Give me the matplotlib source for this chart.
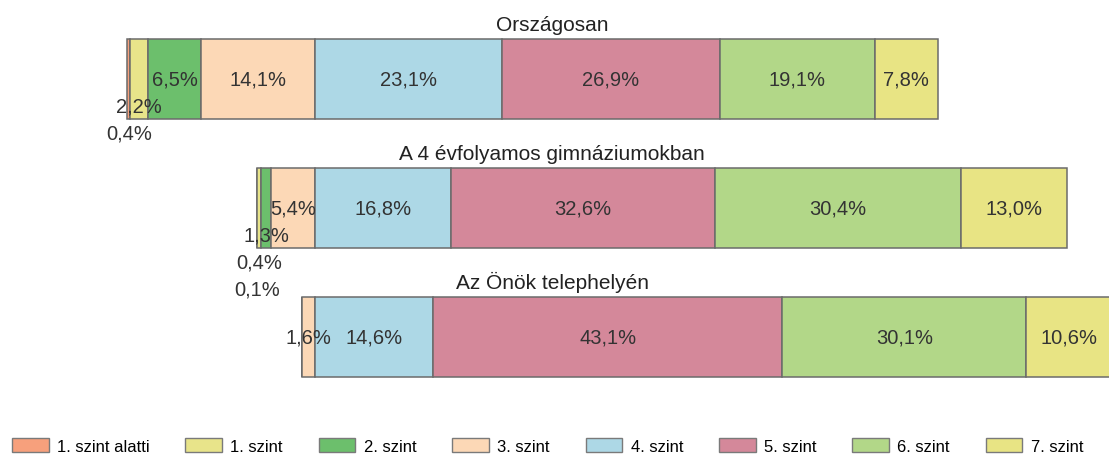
import numpy as np
import matplotlib
matplotlib.use('Agg')
import matplotlib.pyplot as plt
import matplotlib.transforms as mtransforms
from matplotlib.patches import Patch

# data
groups = ["Országosan", "A 4 évfolyamos gimnáziumokban", "Az Önök telephelyén"]
levels = ["1. szint alatti", "1. szint", "2. szint", "3. szint",
          "4. szint", "5. szint", "6. szint", "7. szint"]
orszagos = [0.4, 2.2, 6.5, 14.1, 23.1, 26.9, 19.1, 7.8]
gimnazium = [0.1, 0.4, 1.3, 5.4, 16.8, 32.6, 30.4, 13.0]
telephely = [0.0, 0.0, 0.0, 1.6, 14.6, 43.1, 30.1, 10.6]

colors = ['#F7A07C', '#E8E48A', '#6CBF6C', '#FCD8B6',
          '#ADD8E6', '#D4889A', '#B2D788', '#E8E484']

# how many steps a small label is pushed down (excel style)
label_drop = [[2, 1, 0, 0, 0, 0, 0, 0],
              [3, 2, 1, 0, 0, 0, 0, 0],
              [0, 0, 0, 0, 0, 0, 0, 0]]

plt.rcParams['font.family'] = ['Liberation Sans', 'DejaVu Sans']

values = np.array([orszagos, gimnazium, telephely])
# the bars are shifted so that "4. szint" always starts at 0
starts = -values[:, :4].sum(axis=1)

fig = plt.figure(figsize=(11.09, 4.56), dpi=100)
ax = fig.add_axes([0, 0, 1, 1])

barH = 0.62
for i in range(len(groups)):
    left = starts[i]
    for j in range(len(levels)):
        w = values[i][j]
        ax.barh(i, w, left=left, height=barH, color=colors[j],
                edgecolor='#6b6b6b', linewidth=1.1)
        if w > 0:
            txt = ("%.1f%%" % w).replace('.', ',')
            ax.annotate(txt, (left + w / 2.0, i), xytext=(0, -19.5 * label_drop[i][j]),
                        textcoords='offset points', ha='center', va='center',
                        fontsize=14.5, color='#333333')
        left = left + w

trans = mtransforms.blended_transform_factory(ax.transAxes, ax.transData)
for i in range(len(groups)):
    ax.text(0.498, i - barH / 2 - 0.07, groups[i], transform=trans,
            ha='center', va='baseline', fontsize=15, color='#222222')

ax.set_xlim(-315 / 8.1, (1109 - 315) / 8.1)
ax.set_ylim((456 - 80) / 129.0, -80 / 129.0)
ax.axis('off')

handles = [Patch(facecolor=colors[j], edgecolor='#7a7a7a', linewidth=1.0) for j in range(len(levels))]
fig.legend(handles, levels, loc='center left', bbox_to_anchor=(12 / 1109, 1 - 447 / 456),
           ncol=8, frameon=False, fontsize=12, handlelength=2.2, handleheight=0.9,
           handletextpad=0.5, columnspacing=2.15, borderpad=0, borderaxespad=0)

fig.savefig('out.png', dpi=100)
